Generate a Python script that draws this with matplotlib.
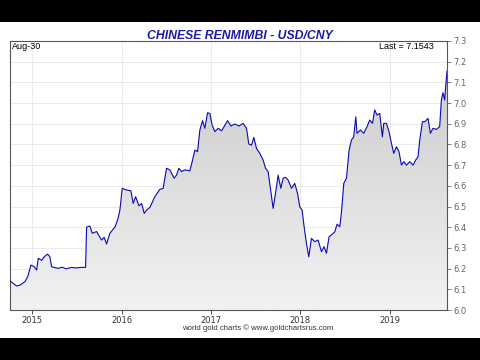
import numpy as np
import matplotlib
matplotlib.use("Agg")
import matplotlib.pyplot as plt
from matplotlib.patches import Rectangle

# USD/CNY, x in decimal years
years = [2014.751, 2014.825, 2014.862, 2014.918, 2014.949, 2014.985, 2015.022, 2015.049,
         2015.067, 2015.105, 2015.134, 2015.172, 2015.198, 2015.217, 2015.254, 2015.291,
         2015.332, 2015.377, 2015.441, 2015.489, 2015.545, 2015.597, 2015.608, 2015.645,
         2015.671, 2015.720, 2015.776, 2015.805, 2015.832, 2015.869, 2015.925, 2015.959,
         2015.981, 2016.007, 2016.056, 2016.104, 2016.130, 2016.157, 2016.194, 2016.224,
         2016.253, 2016.280, 2016.317, 2016.372, 2016.428, 2016.465, 2016.503, 2016.540,
         2016.588, 2016.615, 2016.641, 2016.671, 2016.708, 2016.764, 2016.790, 2016.820,
         2016.850, 2016.876, 2016.906, 2016.932, 2016.962, 2016.988, 2017.013, 2017.044,
         2017.081, 2017.119, 2017.136, 2017.186, 2017.223, 2017.267, 2017.312, 2017.360,
         2017.398, 2017.424, 2017.454, 2017.480, 2017.510, 2017.547, 2017.584, 2017.611,
         2017.640, 2017.678, 2017.696, 2017.734, 2017.752, 2017.782, 2017.808, 2017.834,
         2017.864, 2017.902, 2017.938, 2017.969, 2017.994, 2018.020, 2018.043, 2018.069,
         2018.095, 2018.125, 2018.162, 2018.199, 2018.237, 2018.266, 2018.293, 2018.322,
         2018.360, 2018.386, 2018.412, 2018.442, 2018.461, 2018.487, 2018.517, 2018.546,
         2018.573, 2018.598, 2018.621, 2018.635, 2018.673, 2018.710, 2018.747, 2018.777,
         2018.808, 2018.833, 2018.859, 2018.889, 2018.919, 2018.934, 2018.964, 2018.993,
         2019.020, 2019.046, 2019.076, 2019.105, 2019.132, 2019.158, 2019.188, 2019.225,
         2019.262, 2019.292, 2019.318, 2019.337, 2019.367, 2019.393, 2019.430, 2019.456,
         2019.485, 2019.523, 2019.560, 2019.579, 2019.597, 2019.616, 2019.630, 2019.642]
rate = [6.141, 6.116, 6.120, 6.137, 6.161, 6.217, 6.209, 6.193,
        6.250, 6.240, 6.257, 6.270, 6.257, 6.209, 6.205, 6.201,
        6.207, 6.199, 6.206, 6.203, 6.206, 6.206, 6.400, 6.406,
        6.371, 6.379, 6.338, 6.351, 6.319, 6.371, 6.400, 6.440,
        6.483, 6.588, 6.580, 6.576, 6.515, 6.548, 6.503, 6.515,
        6.467, 6.483, 6.496, 6.548, 6.583, 6.588, 6.685, 6.677,
        6.637, 6.652, 6.685, 6.669, 6.677, 6.673, 6.717, 6.773,
        6.765, 6.870, 6.915, 6.878, 6.953, 6.950, 6.894, 6.862,
        6.878, 6.866, 6.878, 6.915, 6.889, 6.899, 6.889, 6.902,
        6.878, 6.802, 6.797, 6.834, 6.781, 6.757, 6.725, 6.685,
        6.669, 6.548, 6.491, 6.596, 6.652, 6.588, 6.637, 6.641,
        6.628, 6.588, 6.612, 6.564, 6.499, 6.483, 6.402, 6.322,
        6.257, 6.346, 6.330, 6.338, 6.282, 6.306, 6.274, 6.354,
        6.367, 6.378, 6.415, 6.402, 6.475, 6.612, 6.637, 6.773,
        6.822, 6.837, 6.934, 6.854, 6.870, 6.854, 6.886, 6.918,
        6.902, 6.967, 6.942, 6.950, 6.837, 6.902, 6.902, 6.862,
        6.806, 6.757, 6.789, 6.765, 6.700, 6.717, 6.700, 6.717,
        6.700, 6.725, 6.741, 6.822, 6.910, 6.910, 6.926, 6.854,
        6.878, 6.873, 6.886, 7.015, 7.050, 7.015, 7.096, 7.154]
year_ticks = [2015, 2016, 2017, 2018, 2019]
y_ticks = [6.0, 6.1, 6.2, 6.3, 6.4, 6.5, 6.6, 6.7, 6.8, 6.9, 7.0, 7.1, 7.2, 7.3]

fig = plt.figure(figsize=(4.8, 3.6), dpi=100, facecolor="white")
# black bars top and bottom
for y0, h in [(0, 22), (338, 22)]:
    fig.add_artist(Rectangle((0, 1 - (y0 + h) / 360), 1, h / 360, transform=fig.transFigure,
                             facecolor="black", edgecolor="none", zorder=10))

ax = fig.add_axes([10 / 480, 50 / 360, 437 / 480, 269 / 360])
ax.set_facecolor("white")
ax.set_xlim(years[0], years[-1])
ax.set_ylim(6.0, 7.3)

# gradient fill under the line
grad = np.linspace(0, 1, 256).reshape(-1, 1)
cmap = matplotlib.colors.LinearSegmentedColormap.from_list("g", ["#f2f2f2", "#c8c8c8"])
img = ax.imshow(grad, extent=[years[0], years[-1], 6.0, 7.3], origin="lower",
                cmap=cmap, aspect="auto", zorder=1)
poly = ax.fill_between(years, rate, 6.0, facecolor="none", edgecolor="none")
img.set_clip_path(poly.get_paths()[0], transform=ax.transData)

ax.plot(years, rate, color="#0a0ab4", lw=0.8, zorder=3)

ax.set_xticks(year_ticks)
ax.set_xticklabels([str(y) for y in year_ticks])
ax.set_yticks(y_ticks)
ax.set_yticklabels(["%.1f" % v for v in y_ticks])
ax.yaxis.tick_right()
ax.tick_params(axis="both", labelsize=6, colors="#666666", length=3, width=0.6, pad=1.5)
ax.tick_params(axis="x", colors="#333333", pad=1)
ax.grid(True, color="#e6e6e6", lw=0.6, zorder=0)
ax.set_axisbelow(True)
for s in ax.spines.values():
    s.set_color("#555555")
    s.set_linewidth(0.8)

ax.text(0.004, 0.995, "Aug-30", transform=ax.transAxes, fontsize=6.5,
        family="Liberation Sans", va="top", ha="left", zorder=5)
ax.text(0.97, 0.995, "Last = 7.1543", transform=ax.transAxes, fontsize=6.5,
        family="Liberation Sans", va="top", ha="right", zorder=5)

fig.text(0.5, 1 - 39 / 360, "CHINESE RENMIMBI - USD/CNY", ha="center", va="baseline",
         fontsize=8.8, fontweight="bold", fontstyle="italic", color="#1a1aa8",
         family="Liberation Sans")
fig.text(258 / 480, 1 - 330 / 360, "world gold charts \u00a9 www.goldchartsrus.com",
         ha="center", va="baseline", fontsize=5.6, color="#333333", family="Liberation Sans")

fig.savefig("out.png", dpi=100)
